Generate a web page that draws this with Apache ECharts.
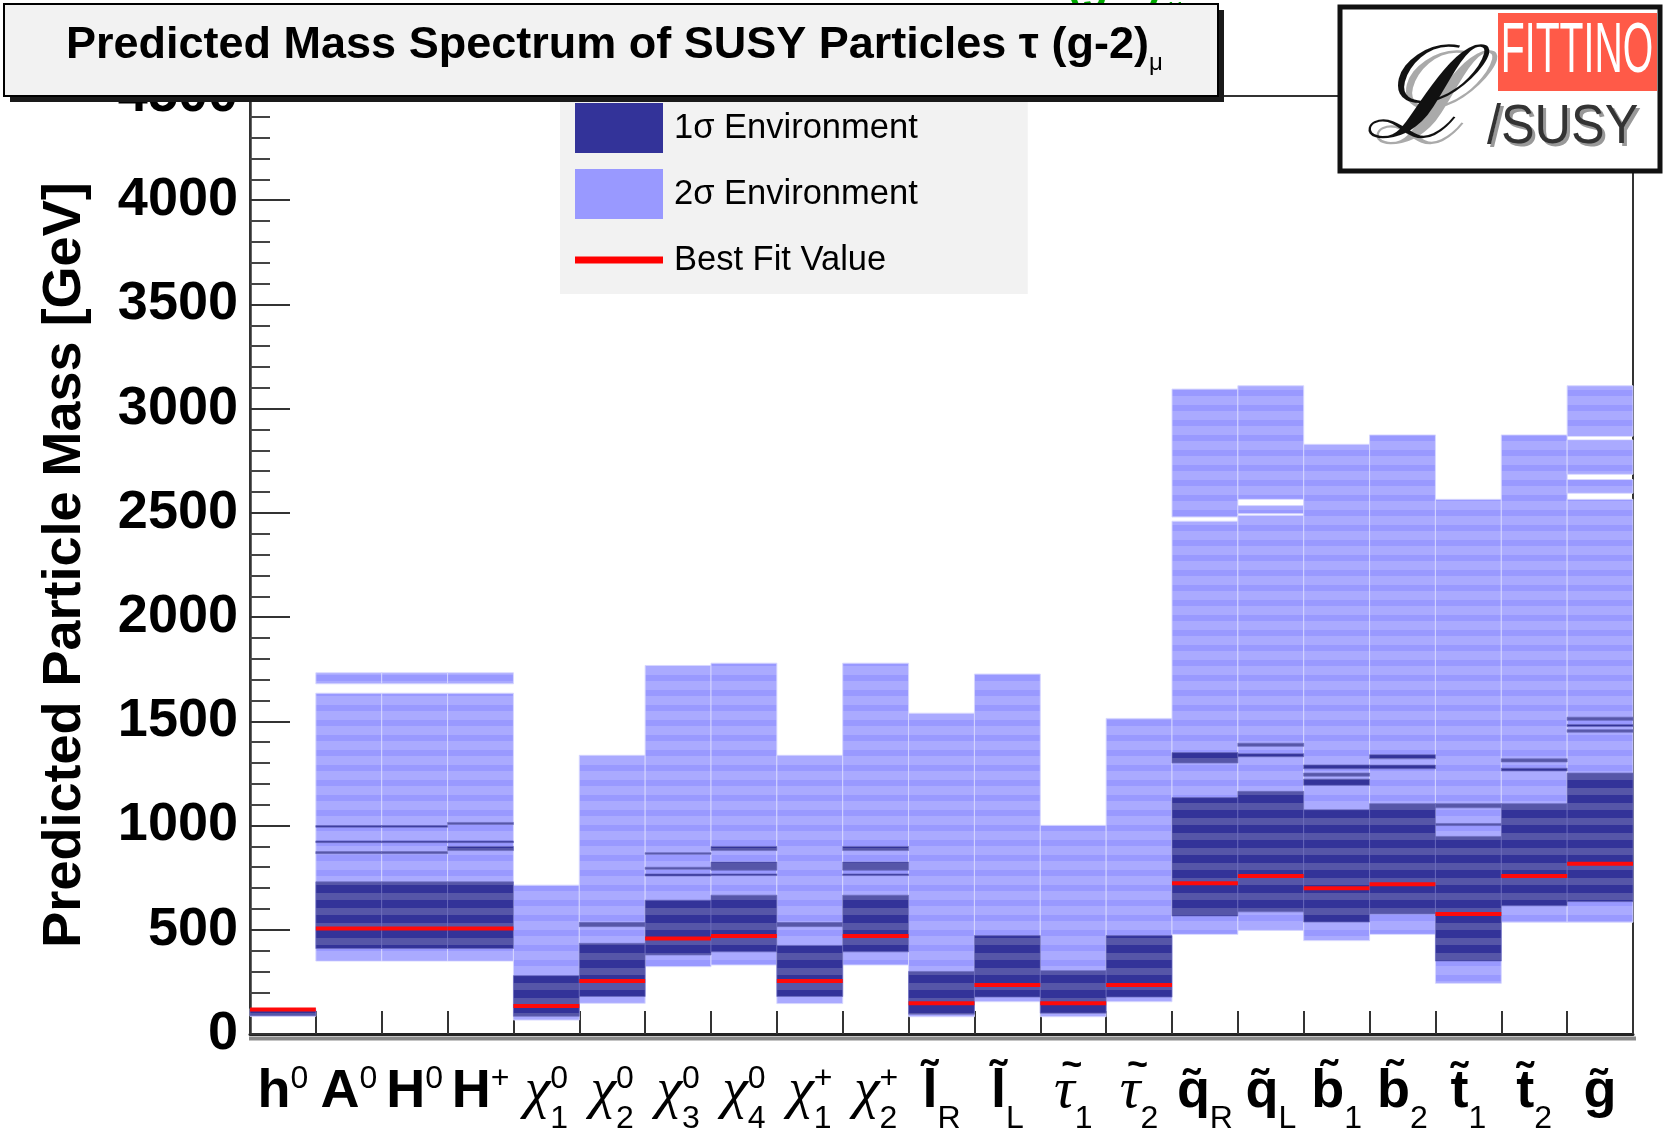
<!DOCTYPE html>
<html>
<head>
<meta charset="utf-8">
<script src="https://cdn.jsdelivr.net/npm/echarts@6/dist/echarts.min.js"></script>
<style>
html,body{margin:0;padding:0;background:#ffffff;}
#chart{width:1663px;height:1135px;}
</style>
</head>
<body>
<div id="chart"></div>
<script>
// ---------------- data ----------------
const particles = ['h0','A0','H0','H+','chi1_0','chi2_0','chi3_0','chi4_0','chi1_+','chi2_+',
  'l_R','l_L','tau_1','tau_2','q_R','q_L','b_1','b_2','t_1','t_2','g'];

const tickLabels = [
  '{b|h}{sup|0}', '{b|A}{sup|0}', '{b|H}{sup|0}', '{b|H}{sup|+}',
  '{g|\u03c7}{supz|0}{sub|1}', '{g|\u03c7}{supz|0}{sub|2}', '{g|\u03c7}{supz|0}{sub|3}', '{g|\u03c7}{supz|0}{sub|4}',
  '{g|\u03c7}{supz|+}{sub|1}', '{g|\u03c7}{supz|+}{sub|2}',
  '{b|l\u0303}{sub|R}', '{b|l\u0303}{sub|L}', '{tl|\u2009~}{g|\u03c4}{sub|1}', '{tl|\u2009~}{g|\u03c4}{sub|2}',
  '{b|q\u0303}{sub|R}', '{b|q\u0303}{sub|L}', '{b|b\u0303}{sub|1}', '{b|b\u0303}{sub|2}',
  '{b|t\u0303}{sub|1}', '{b|t\u0303}{sub|2}', '{b|g\u0303}'
];

// best fit mass [GeV]
const bestFit = [117, 506, 506, 506, 134, 254, 458, 470, 254, 470,
  147, 235, 147, 235, 723, 758, 699, 719, 576, 758, 817];

// 2 sigma environment: mass intervals [low, high] per particle
const twoSigma = [
  [[85, 122]],
  [[350, 1635], [1680, 1733]],
  [[350, 1635], [1680, 1733]],
  [[350, 1635], [1680, 1733]],
  [[67, 714]],
  [[147, 1337]],
  [[323, 1768]],
  [[331, 1779]],
  [[146, 1337]],
  [[331, 1779]],
  [[83, 1539]],
  [[155, 1727]],
  [[83, 1001]],
  [[155, 1514]],
  [[478, 2460], [2480, 3094]],
  [[497, 2488], [2496, 2535], [2565, 3110]],
  [[448, 2829]],
  [[478, 2874]],
  [[243, 2565]],
  [[536, 2874]],
  [[536, 2565], [2594, 2660], [2685, 2850], [2868, 3110]]
];

// 1 sigma environment: mass intervals [low, high] per particle
const oneSigma = [
  [[88, 112]],
  [[410, 730], [865, 875], [918, 926], [992, 1000]],
  [[410, 730], [865, 875], [918, 926], [992, 1000]],
  [[410, 730], [880, 900], [918, 926], [1005, 1015]],
  [[85, 280]],
  [[180, 435], [515, 535]],
  [[379, 642], [758, 768], [790, 800], [862, 870]],
  [[394, 666], [760, 768], [786, 825], [880, 900]],
  [[180, 425], [515, 535]],
  [[394, 666], [760, 768], [786, 825], [880, 900]],
  [[95, 300]],
  [[177, 472]],
  [[100, 304]],
  [[177, 472]],
  [[566, 1134], [1300, 1350]],
  [[586, 1164], [1330, 1345], [1380, 1395]],
  [[537, 1076], [1193, 1223], [1237, 1252], [1272, 1291]],
  [[576, 1105], [1272, 1290], [1320, 1340]],
  [[350, 948], [1000, 1010], [1085, 1105]],
  [[615, 1105], [1262, 1275], [1305, 1320]],
  [[635, 1252], [1448, 1460], [1475, 1485], [1505, 1520]]
];

const yMin = 0, yMax = 4500, yStep = 500;
const legendNames = ['1\u03c3 Environment', '2\u03c3 Environment', 'Best Fit Value'];

// ---------------- styles ----------------
function stripeCanvas(c1, h1, c2, h2) {
  const cv = document.createElement('canvas');
  cv.width = 4; cv.height = h1 + h2;
  const ctx = cv.getContext('2d');
  ctx.fillStyle = c1; ctx.fillRect(0, 0, 4, h1);
  ctx.fillStyle = c2; ctx.fillRect(0, h1, 4, h2);
  return cv;
}
const lightPattern = {type: 'pattern', image: stripeCanvas('#9999ff', 6, '#aaaaff', 9), repeat: 'repeat'};
const darkPattern = {type: 'pattern', image: stripeCanvas('#333399', 8, '#5656a8', 7), repeat: 'repeat'};

function toIntervals(list) {
  const out = [];
  list.forEach((segs, i) => segs.forEach(s => out.push([i, s[0], s[1]])));
  return out;
}

function bandRenderer(fill, stroke) {
  return function (params, api) {
    const i = api.value(0), lo = api.value(1), hi = api.value(2);
    const top = api.coord([i, hi]);
    const bot = api.coord([i, lo]);
    const w = api.size([1, 0])[0];
    return {
      type: 'rect',
      shape: {x: top[0] - w / 2, y: top[1], width: w, height: bot[1] - top[1]},
      style: {fill: fill, stroke: stroke, lineWidth: 1}
    };
  };
}

function bestRenderer(params, api) {
  const i = api.value(0), v = api.value(1);
  const p = api.coord([i, v]);
  const w = api.size([1, 0])[0];
  return {
    type: 'rect',
    shape: {x: p[0] - w / 2, y: p[1] - 2, width: w, height: 4},
    style: {fill: '#ff0a0a'}
  };
}

const FONT = 'Liberation Sans, Arial, Helvetica, sans-serif';
const SERIF = 'Liberation Serif, DejaVu Serif, serif';

const chart = echarts.init(document.getElementById('chart'), null, {renderer: 'canvas'});

const option = {
  backgroundColor: '#ffffff',
  animation: false,
  grid: {left: 250, right: 30, top: 96, bottom: 100, show: true, borderColor: '#333', borderWidth: 2},
  legend: {
    left: 560, top: 97, orient: 'vertical',
    itemWidth: 88, itemHeight: 50, itemGap: 16,
    padding: [6, 110, 9, 15],
    backgroundColor: '#f2f2f2',
    selectedMode: false,
    textStyle: {fontSize: 34.5, fontFamily: FONT, color: '#000', padding: [0, 0, 0, 6]},
    data: [
      {name: legendNames[0], icon: 'rect', itemStyle: {color: '#333399'}},
      {name: legendNames[1], icon: 'rect', itemStyle: {color: '#9999ff'}},
      {name: legendNames[2], icon: 'path://M0,0h0.1v0.1h-0.1z M0,21.5h88v7h-88z M0,50h0.1v-0.1h-0.1z', itemStyle: {color: '#ff0000'}}
    ]
  },
  xAxis: {
    type: 'category',
    data: particles,
    boundaryGap: true,
    axisLine: {show: true, lineStyle: {color: '#222', width: 3}},
    axisTick: {show: true, inside: true, length: 23, interval: 0, lineStyle: {color: '#333', width: 2}},
    splitLine: {show: false},
    axisLabel: {
      interval: 0,
      margin: 18,
      color: '#000',
      formatter: function (v, idx) { return tickLabels[idx]; },
      rich: {
        b: {fontFamily: FONT, fontWeight: 'bold', fontSize: 54, color: '#000', lineHeight: 80, align: 'left'},
        g: {fontFamily: SERIF, fontStyle: 'italic', fontSize: 58, color: '#000', lineHeight: 80, align: 'left'},
        tl: {fontFamily: FONT, fontWeight: 'bold', fontSize: 36, color: '#000', verticalAlign: 'top', height: 28, lineHeight: 28, align: 'left', width: 0},
        sup: {fontFamily: FONT, fontSize: 32, color: '#000', verticalAlign: 'top', height: 54, lineHeight: 54, align: 'left'},
        supz: {fontFamily: FONT, fontSize: 32, color: '#000', verticalAlign: 'top', height: 54, lineHeight: 54, align: 'left', width: 0},
        sub: {fontFamily: FONT, fontSize: 32, color: '#000', verticalAlign: 'bottom', height: 26, lineHeight: 26, align: 'left'}
      }
    }
  },
  yAxis: {
    type: 'value',
    min: yMin, max: yMax, interval: yStep,
    name: 'Predicted Particle Mass [GeV]',
    nameLocation: 'middle',
    nameGap: 158,
    nameTextStyle: {fontFamily: FONT, fontWeight: 'bold', fontSize: 54, color: '#000'},
    axisLine: {show: true, lineStyle: {color: '#333', width: 2.5}},
    axisTick: {show: true, inside: true, length: 40, lineStyle: {color: '#333', width: 2}},
    minorTick: {show: true, splitNumber: 5, length: 20, lineStyle: {color: '#444', width: 2}},
    splitLine: {show: false},
    axisLabel: {fontFamily: FONT, fontWeight: 'bold', fontSize: 54, color: '#000', margin: 12,
      formatter: function (v) { return String(v); }}
  },
  series: [
    {
      name: legendNames[1], type: 'custom',
      itemStyle: {color: '#9999ff'},
      renderItem: bandRenderer(lightPattern, 'rgba(215,215,255,0.9)'),
      encode: {x: 0, y: [1, 2]},
      data: toIntervals(twoSigma), z: 2
    },
    {
      name: legendNames[0], type: 'custom',
      itemStyle: {color: '#333399'},
      renderItem: bandRenderer(darkPattern, 'rgba(110,110,190,0.7)'),
      encode: {x: 0, y: [1, 2]},
      data: toIntervals(oneSigma), z: 3
    },
    {
      name: legendNames[2], type: 'custom',
      itemStyle: {color: '#ff0000'},
      renderItem: bestRenderer,
      encode: {x: 0, y: 1},
      data: bestFit.map((v, i) => [i, v]), z: 4
    }
  ],
  graphic: [
    // shadow under x axis
    {type: 'rect', z: 50, shape: {x: 249, y: 1036.5, width: 1387, height: 4}, style: {fill: '#8a8a8a'}},
    // partially visible green title at the very top
    {type: 'text', z: 40, style: {text: '(g-2)', x: 1162, y: 9, align: 'right', verticalAlign: 'bottom', font: 'bold 44px ' + FONT, fill: '#00aa00'}},
    {type: 'text', z: 40, style: {text: '\u03bc', x: 1168, y: 22, align: 'left', verticalAlign: 'bottom', font: '26px ' + FONT, fill: '#00aa00'}},
    // title box
    {type: 'rect', z: 100, shape: {x: 10, y: 10, width: 1214, height: 92}, style: {fill: '#1a1a1a'}},
    {type: 'rect', z: 101, shape: {x: 4, y: 4, width: 1214, height: 92}, style: {fill: '#f2f2f2', stroke: '#000', lineWidth: 2}},
    {type: 'text', z: 102, style: {
      text: '{t|Predicted Mass Spectrum of SUSY Particles \u03c4 (g-2)}{s|\u03bc}',
      x: 66, y: 46, align: 'left', verticalAlign: 'middle',
      rich: {
        t: {fontFamily: FONT, fontWeight: 'bold', fontSize: 45, color: '#000', lineHeight: 60, align: 'left'},
        s: {fontFamily: FONT, fontSize: 24, color: '#000', verticalAlign: 'bottom', height: 26, lineHeight: 26, align: 'left'}
      }
    }},
    // logo
    {type: 'group', z: 100, x: 1340, y: 7, children: [
      {type: 'rect', z: 100, shape: {x: 0, y: 0, width: 320, height: 164}, style: {fill: '#fff', stroke: '#111', lineWidth: 5}},
      {type: 'rect', z: 101, shape: {x: 158, y: 6, width: 159, height: 78}, style: {fill: '#ff5a48'}},
      {type: 'text', z: 102, x: 237, y: 46, scaleX: 0.56, style: {text: 'FITTINO', x: 0, y: 0, align: 'center', verticalAlign: 'middle', font: '70px ' + FONT, fill: '#fff'}},
      {type: 'text', z: 102, x: 150, y: 124, scaleX: 0.9, style: {text: '/SUSY', x: 0, y: 0, align: 'left', verticalAlign: 'middle', font: '56px ' + FONT, fill: '#999'}},
      {type: 'text', z: 103, x: 147, y: 121, scaleX: 0.9, style: {text: '/SUSY', x: 0, y: 0, align: 'left', verticalAlign: 'middle', font: '56px ' + FONT, fill: '#333'}},
      {type: 'text', z: 102, x: 86, y: 102, style: {text: '\u2112', x: 0, y: 0, align: 'center', verticalAlign: 'middle', font: 'italic 128px ' + SERIF, fill: '#aaa'}},
      {type: 'text', z: 103, x: 78, y: 96, style: {text: '\u2112', x: 0, y: 0, align: 'center', verticalAlign: 'middle', font: 'italic 128px ' + SERIF, fill: '#111'}}
    ]}
  ]
};

chart.setOption(option);
</script>
</body>
</html>
